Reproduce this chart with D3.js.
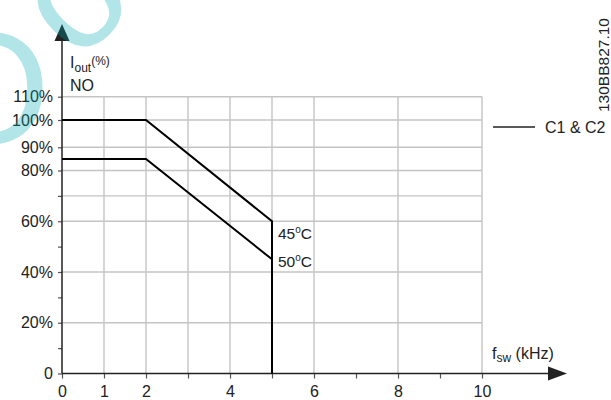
<!DOCTYPE html>
<html>
<head>
<meta charset="utf-8">
<script src="https://cdn.jsdelivr.net/npm/d3@7"></script>
<style>
  body { margin: 0; background: #fff; }
  svg { display: block; font-family: "Liberation Sans", Arial, sans-serif; }
  svg text { font-family: "Liberation Sans", Arial, sans-serif; }
</style>
</head>
<body>
<svg id="chart" width="611" height="400"></svg>
<script>
// Switching frequency axis (kHz)
const freqTicks = [0, 1, 2, 3, 4, 5, 6, 7, 8, 9, 10];
const freqLabels = [0, 1, 2, 4, 6, 8, 10];
const freqGrid = [1, 2, 3, 4, 5, 6, 8, 10];

// Output current axis (% of nominal)
const currentTicks = [0, 10, 20, 30, 40, 50, 60, 70, 80, 90, 100, 110];
const currentLabels = [0, 20, 40, 60, 80, 90, 100, 110];
const currentGrid = [20, 40, 60, 70, 80, 90, 100, 110];

// Derating curves: frequency breakpoints and output current
const freq45 = [0, 2, 5, 5];
const current45 = [100, 100, 60, 0];
const freq50 = [0, 2, 5];
const current50 = [85, 85, 45];

const svg = d3.select("#chart");
const ink = "#222";
const gridColor = "#c4c4c4";

const x = d3.scaleLinear().domain([0, 10]).range([62, 482]);
const y = d3.scaleLinear()
  .domain([0, 80, 90, 100, 110])
  .range([373.5, 170.5, 147.3, 120, 96.7]);

// Grid
const grid = svg.append("g");
grid.selectAll("line.v").data(freqGrid).join("line")
  .attr("x1", d => x(d)).attr("x2", d => x(d))
  .attr("y1", y(0)).attr("y2", y(110))
  .attr("stroke", gridColor).attr("stroke-width", 1.4);
grid.selectAll("line.h").data(currentGrid).join("line")
  .attr("x1", x(0)).attr("x2", x(10))
  .attr("y1", d => y(d)).attr("y2", d => y(d))
  .attr("stroke", gridColor).attr("stroke-width", 1.4);

// Axes with tick marks
const xAxis = d3.axisBottom(x).tickValues(freqTicks).tickSize(5)
  .tickFormat(d => freqLabels.includes(d) ? d : "");
const gx = svg.append("g").attr("transform", `translate(0,${y(0)})`).call(xAxis);
gx.attr("font-family", null);
gx.select(".domain").remove();
gx.selectAll(".tick line").attr("stroke", "#555").attr("stroke-width", 1.2);
gx.selectAll(".tick text").attr("fill", ink).attr("font-size", 16)
  .attr("y", 12).attr("dy", "0.71em");

const yAxis = d3.axisLeft(y).tickValues(currentTicks).tickSize(4)
  .tickFormat(d => currentLabels.includes(d) ? (d === 0 ? "0" : d + "%") : "");
const gy = svg.append("g").attr("transform", `translate(${x(0)},0)`).call(yAxis);
gy.attr("font-family", null);
gy.select(".domain").remove();
gy.selectAll(".tick line").attr("stroke", "#555").attr("stroke-width", 1.2);
gy.selectAll(".tick text").attr("fill", ink).attr("font-size", 16).attr("x", -9);

// Axis lines with arrow heads
svg.append("line").attr("x1", x(0)).attr("x2", x(0)).attr("y1", y(0)).attr("y2", 38)
  .attr("stroke", ink).attr("stroke-width", 1.5);
svg.append("path").attr("d", `M${x(0)},24 L${x(0) - 7.5},41 L${x(0) + 7.5},41 Z`).attr("fill", ink);
svg.append("line").attr("x1", x(0)).attr("x2", 550).attr("y1", y(0)).attr("y2", y(0))
  .attr("stroke", ink).attr("stroke-width", 1.5);
svg.append("path").attr("d", `M567,${y(0)} L548,${y(0) - 7} L548,${y(0) + 7} Z`).attr("fill", ink);

// Curves
const line = d3.line().x(d => x(d[0])).y(d => y(d[1]));
svg.append("path").datum(d3.zip(freq45, current45)).attr("d", line)
  .attr("fill", "none").attr("stroke", "#000").attr("stroke-width", 2);
svg.append("path").datum(d3.zip(freq50, current50)).attr("d", line)
  .attr("fill", "none").attr("stroke", "#000").attr("stroke-width", 2);

// Temperature labels
function tempLabel(t, px, py) {
  const tx = svg.append("text").attr("x", px).attr("y", py)
    .attr("font-size", 15.5).attr("fill", ink);
  tx.append("tspan").text(t);
  tx.append("tspan").attr("font-size", 10).attr("dy", -6).text("o");
  tx.append("tspan").attr("dy", 6).text("C");
}
tempLabel("45", x(5) + 6, y(current45[2]) + 18);
tempLabel("50", x(5) + 6, y(current50[2]) + 7.5);

// Axis titles
const yt = svg.append("text").attr("x", 70).attr("y", 68).attr("font-size", 16).attr("fill", ink);
yt.append("tspan").text("I");
yt.append("tspan").attr("font-size", 12).attr("dy", 4).text("out");
yt.append("tspan").attr("font-size", 12).attr("dy", -7).text("(%)");
svg.append("text").attr("x", 70).attr("y", 90.5).attr("font-size", 16).attr("fill", ink).text("NO");

const xt = svg.append("text").attr("x", 492).attr("y", 359).attr("font-size", 16).attr("fill", ink);
xt.append("tspan").text("f");
xt.append("tspan").attr("font-size", 12).attr("dy", 3).text("sw");
xt.append("tspan").attr("dy", -3).text(" (kHz)");

// Legend
svg.append("line").attr("x1", 493).attr("x2", 535).attr("y1", 127).attr("y2", 127)
  .attr("stroke", ink).attr("stroke-width", 1.5);
svg.append("text").attr("x", 545).attr("y", 133).attr("font-size", 16).attr("fill", ink).text("C1 & C2");

// Drawing number
svg.append("text").attr("transform", "translate(609,112) rotate(-90)")
  .attr("font-size", 15.5).attr("fill", ink).text("130BB827.10");

// Watermark glyphs (translucent, over the chart)
const mark = svg.append("g").attr("fill", "#00aab0").attr("fill-opacity", 0.3)
  .attr("text-anchor", "middle");
mark.append("text").attr("x", -12).attr("y", 86 + 0.358 * 160)
  .attr("font-size", 160).text("O");
mark.append("text").attr("transform", "translate(80,5) rotate(-45)")
  .attr("y", 0.26 * 155).attr("font-size", 155).text("o");
mark.append("text").attr("x", 127).attr("y", 14)
  .attr("font-size", 70).text("•");
</script>
</body>
</html>
